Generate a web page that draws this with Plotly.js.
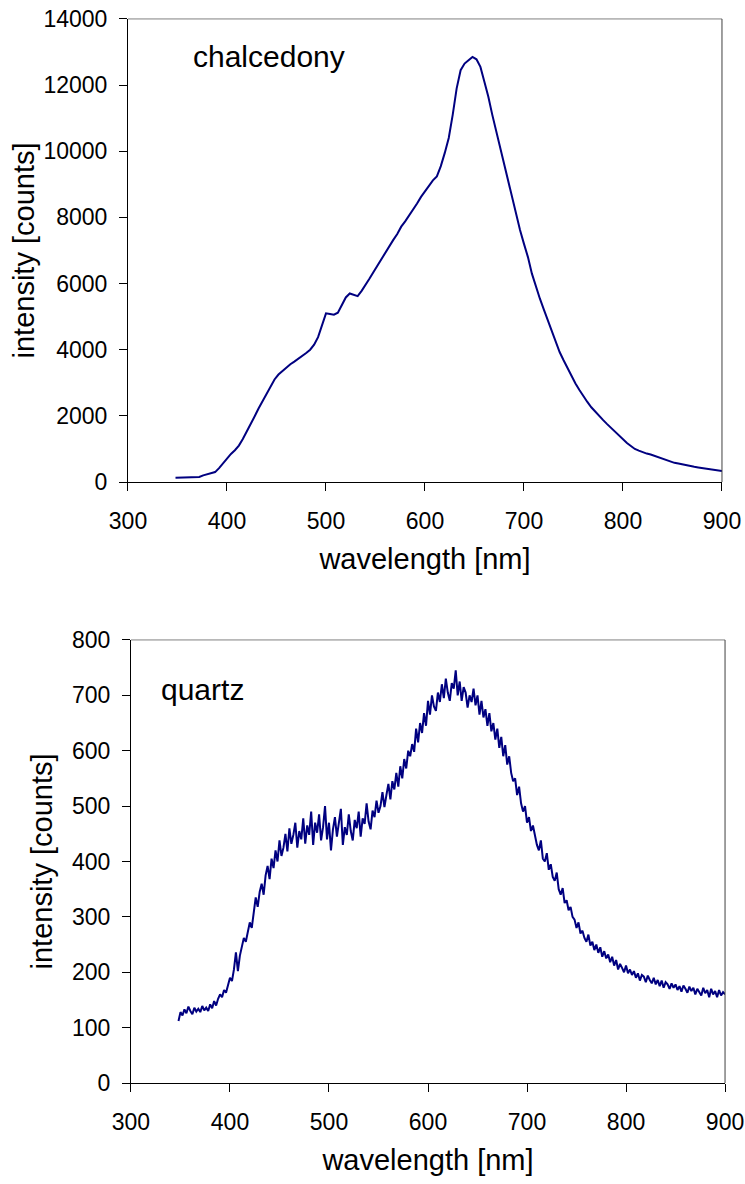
<!DOCTYPE html>
<html>
<head>
<meta charset="utf-8">
<script src="https://cdn.plot.ly/plotly-3.0.1.min.js"></script>
<style>html,body{margin:0;padding:0;background:#fff}#chart{width:745px;height:1184px}</style>
</head>
<body>
<div id="chart"></div>
<script>
// chalcedony spectrum: wavelength [nm] and intensity [counts]
const wavelengthChalcedony = [348,352,356,360,364,368,372,376,380,384,388,392,396,400,404,408,412,416,420,424,428,432,436,440,444,448,452,456,460,464,468,472,476,480,484,488,492,496,500,504,508,512,516,520,524,528,532,536,540,544,548,552,556,560,564,568,572,576,580,584,588,592,596,600,604,608,612,616,620,624,628,632,636,640,644,648,652,656,660,664,668,672,676,680,684,688,692,696,700,704,708,712,716,720,724,728,732,736,740,744,748,752,756,760,764,768,772,776,780,784,788,792,796,800,804,808,812,816,820,824,828,832,836,840,844,848,852,856,860,864,868,872,876,880,884,888,892,896,900];
const chalcedony = [130,130,130,135,130,140,150,200,230,280,300,420,560,720,850,960,1100,1300,1520,1760,1990,2230,2450,2650,2880,3100,3250,3360,3450,3560,3640,3720,3800,3900,4000,4150,4380,4750,5100,5080,5060,5120,5350,5580,5700,5650,5620,5780,5950,6150,6350,6550,6720,6950,7150,7320,7500,7720,7880,8050,8220,8420,8620,8800,8980,9120,9240,9550,9950,10400,11100,11900,12450,12650,12750,12850,12780,12550,12100,11650,11100,10600,10120,9550,9050,8550,8100,7620,7200,6800,6300,5900,5550,5220,4900,4530,4220,3930,3680,3440,3200,2980,2780,2580,2420,2260,2120,1990,1870,1750,1630,1520,1400,1280,1180,1090,1000,950,900,860,830,790,740,690,650,610,580,560,530,510,490,460,440,420,400,385,370,350,330];

// quartz spectrum: wavelength [nm] and intensity [counts]
const wavelengthQuartz = [348,350,352,354,356,358,360,362,364,366,368,370,372,374,376,378,380,382,384,386,388,390,392,394,396,398,400,402,404,406,408,410,412,414,416,418,420,422,424,426,428,430,432,434,436,438,440,442,444,446,448,450,452,454,456,458,460,462,464,466,468,470,472,474,476,478,480,482,484,486,488,490,492,494,496,498,500,502,504,506,508,510,512,514,516,518,520,522,524,526,528,530,532,534,536,538,540,542,544,546,548,550,552,554,556,558,560,562,564,566,568,570,572,574,576,578,580,582,584,586,588,590,592,594,596,598,600,602,604,606,608,610,612,614,616,618,620,622,624,626,628,630,632,634,636,638,640,642,644,646,648,650,652,654,656,658,660,662,664,666,668,670,672,674,676,678,680,682,684,686,688,690,692,694,696,698,700,702,704,706,708,710,712,714,716,718,720,722,724,726,728,730,732,734,736,738,740,742,744,746,748,750,752,754,756,758,760,762,764,766,768,770,772,774,776,778,780,782,784,786,788,790,792,794,796,798,800,802,804,806,808,810,812,814,816,818,820,822,824,826,828,830,832,834,836,838,840,842,844,846,848,850,852,854,856,858,860,862,864,866,868,870,872,874,876,878,880,882,884,886,888,890,892,894,896,898,900];
const quartz = [
  112,128,122,133,126,138,130,124,136,129,
  134,128,139,131,136,130,142,135,148,140,
  152,160,155,168,163,178,190,184,205,236,
  202,230,245,262,255,270,290,280,312,335,
  318,345,360,340,375,392,368,405,388,420,
  400,438,410,425,450,418,460,432,448,470,
  425,455,440,478,432,465,448,490,430,470,
  452,485,438,462,500,440,470,420,458,480,
  445,472,495,430,462,448,485,455,438,475,
  460,490,445,478,468,505,472,458,492,480,
  510,488,500,525,498,520,540,512,545,530,
  560,535,572,550,585,568,600,590,612,598,
  640,615,650,632,668,645,690,665,700,680,
  672,705,688,720,695,730,705,690,722,712,
  745,700,725,690,715,705,678,700,688,712,
  682,700,665,690,660,675,645,668,635,650,
  620,640,605,625,590,610,575,590,560,545,
  550,520,535,505,490,500,470,480,455,465,
  445,430,420,438,405,400,415,385,395,372,
  365,380,350,340,352,325,330,312,318,300,
  295,280,290,270,275,262,255,268,248,255,
  240,250,235,245,228,238,225,232,218,228,
  212,222,205,215,208,200,212,198,205,195,
  202,190,198,185,195,192,182,194,186,180,
  190,178,186,175,185,172,182,178,170,180,
  172,178,168,175,165,176,170,163,174,166,
  172,160,170,165,158,172,162,168,155,170,
  160,166,155,168,158,164,160];

const xTicks = [300,400,500,600,700,800,900];
const sampleNames = ["chalcedony", "quartz"];
const xTitle = "wavelength [nm]";
const yTitle = "intensity [counts]";

const FONT = "'Liberation Sans', Arial, sans-serif";
const lineColor = "#000080";

const traces = [
  {x: wavelengthChalcedony, y: chalcedony, xaxis: "x", yaxis: "y", type: "scatter", mode: "lines",
   line: {color: lineColor, width: 2}, showlegend: false},
  {x: wavelengthQuartz, y: quartz, xaxis: "x2", yaxis: "y2", type: "scatter", mode: "lines",
   line: {color: lineColor, width: 2}, showlegend: false}
];

function xAx(domain, anchor) {
  return {domain: domain, anchor: anchor, range: [300, 900], tickvals: xTicks,
    ticks: "outside", ticklen: 8, tickwidth: 1, tickcolor: "#000",
    showline: true, linecolor: "#000", linewidth: 1, showgrid: false, zeroline: false,
    tickfont: {family: FONT, size: 23, color: "#000"}, ticklabelstandoff: 10,
    title: {text: xTitle, font: {family: FONT, size: 29, color: "#000"}, standoff: 16},
    fixedrange: true};
}
function yAx(domain, anchor, range, dtick, standoff) {
  return {domain: domain, anchor: anchor, range: range, dtick: dtick, tick0: 0, tickformat: "d",
    ticks: "outside", ticklen: 8, tickwidth: 1, tickcolor: "#000",
    showline: true, linecolor: "#000", linewidth: 1, showgrid: false, zeroline: false,
    tickfont: {family: FONT, size: 23, color: "#000"}, ticklabelstandoff: 7,
    title: {text: yTitle, font: {family: FONT, size: 29, color: "#000"}, standoff: standoff},
    fixedrange: true};
}

function frame(xr, yr) {
  return [
    {type: "line", xref: xr + " domain", yref: yr + " domain", x0: 0, x1: 1, y0: 1, y1: 1,
     line: {color: "#808080", width: 1}},
    {type: "line", xref: xr + " domain", yref: yr + " domain", x0: 1, x1: 1, y0: 0, y1: 1,
     line: {color: "#404040", width: 1}}
  ];
}

const layout = {
  width: 745, height: 1184,
  margin: {l: 0, r: 0, t: 0, b: 0},
  paper_bgcolor: "#fff", plot_bgcolor: "#fff",
  font: {family: FONT, color: "#000"},
  xaxis: xAx([0.1718, 0.9691], "y"),
  yaxis: yAx([0.5929, 0.9840], "x", [0, 14000], 2000, 0),
  xaxis2: xAx([0.1758, 0.9732], "y2"),
  yaxis2: yAx([0.0853, 0.4595], "x2", [0, 800], 100, 10),
  shapes: frame("x", "y").concat(frame("x2", "y2")),
  annotations: [
    {text: sampleNames[0], xref: "paper", yref: "paper", x: 191/745, y: 1 - 57/1184,
     xanchor: "left", yanchor: "middle", showarrow: false, font: {family: FONT, size: 30, color: "#000"}},
    {text: sampleNames[1], xref: "paper", yref: "paper", x: 159/745, y: 1 - 689/1184,
     xanchor: "left", yanchor: "middle", showarrow: false, font: {family: FONT, size: 30, color: "#000"}}
  ]
};

Plotly.newPlot("chart", traces, layout, {staticPlot: true, displayModeBar: false});
</script>
</body>
</html>
